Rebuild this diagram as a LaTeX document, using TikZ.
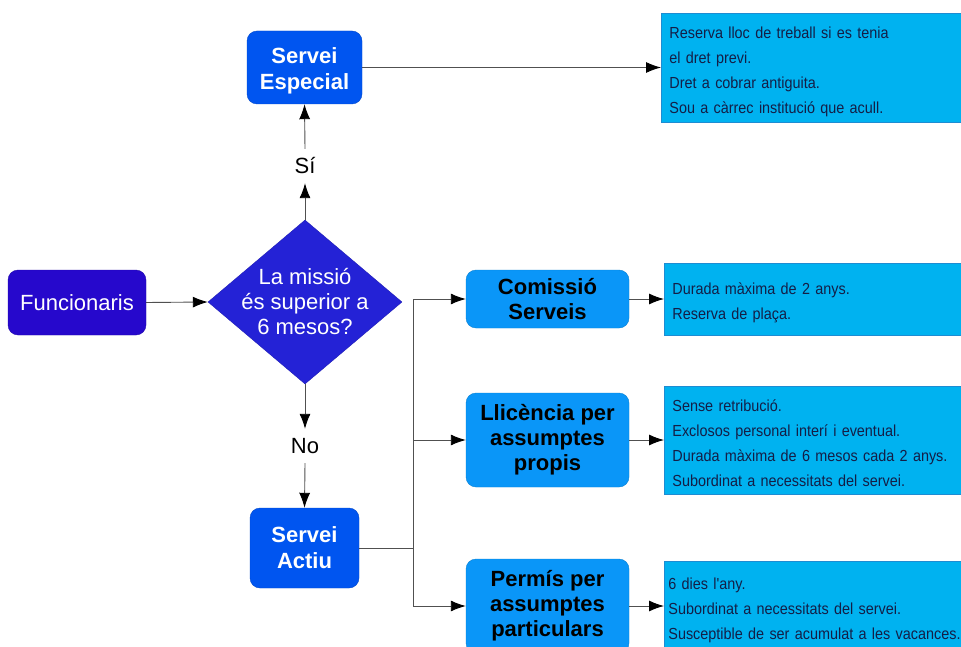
\documentclass[tikz,border=0pt]{standalone}
\usepackage{fontspec}
\setmainfont{Liberation Sans}
\newfontfamily\infofont[FakeStretch=0.9]{Liberation Sans}
\usetikzlibrary{shapes.geometric,arrows.meta}
\definecolor{funcblue}{RGB}{38,8,204}
\definecolor{diablue}{RGB}{36,34,214}
\definecolor{servblue}{RGB}{0,85,240}
\definecolor{optblue}{RGB}{10,150,248}
\definecolor{infoblue}{RGB}{0,178,240}
\definecolor{infoborder}{RGB}{30,140,210}
\definecolor{infotext}{RGB}{20,30,70}
\definecolor{linegray}{RGB}{80,80,80}
\newcommand{\toppad}[1]{\rule{0pt}{#1}}
\tikzset{
  boxbase/.style={rounded corners=10pt, inner sep=0pt, align=center, font=\fontsize{22}{26}\selectfont},
  funcbox/.style={boxbase, fill=funcblue, draw=funcblue!85!black, text=white},
  servbox/.style={boxbase, fill=servblue, draw=servblue!85!black, text=white, font=\fontsize{22}{26}\selectfont\bfseries},
  optbox/.style={boxbase, fill=optblue, draw=optblue!85!black, text=black, font=\fontsize{22}{25}\selectfont\bfseries},
  infobox/.style={rectangle, fill=infoblue, draw=infoborder, line width=0.8pt, anchor=west, align=left,
    text width=314pt, inner xsep=8pt, inner ysep=0pt, text=infotext,
    font=\infofont\fontsize{16}{25}\selectfont},
  lbl/.style={inner sep=0pt, minimum height=34pt, font=\fontsize{22}{26}\selectfont},
  conn/.style={draw=linegray, line width=0.9pt},
  arr/.style={conn, -{Latex[length=15pt,width=11pt,color=black]}}
}
\begin{document}
\begin{tikzpicture}[x=1pt,y=-1pt]
\useasboundingbox (0,0) rectangle (961,647);
\clip (0,0) rectangle (961,647);
\fill[white] (0,0) rectangle (961,647);
% main nodes
\node[funcbox, minimum width=138pt, minimum height=65pt] (func) at (77,302.5) {Funcionaris};
\node[diamond, fill=diablue, draw=diablue!85!black, inner sep=0pt, minimum width=194pt, minimum height=164pt] (dia) at (305,302) {};
\node[text=white, align=center, font=\fontsize{22}{25}\selectfont] (diatext) at (dia.center) {La missió\\és superior a\\6 mesos?};
\node[servbox, minimum width=115pt, minimum height=73pt] (sesp) at (304.5,67.5) {\toppad{22pt}Servei\\Especial};
\node[servbox, minimum width=109pt, minimum height=80pt] (sact) at (304.5,548) {Servei\\Actiu};
\node[lbl] (si) at (305,166) {Sí};
\node[lbl] (no) at (305,446) {No};
\node[optbox, minimum width=163pt, minimum height=58pt] (com) at (547.5,299) {Comissió\\Serveis};
\node[optbox, minimum width=163pt, minimum height=94pt] (llic) at (547.5,440) {Llicència per\\assumptes\\propis};
\node[optbox, minimum width=163pt, minimum height=94pt] (perm) at (547.5,606) {Permís per\\assumptes\\particulars};
% info boxes
\node[infobox, minimum height=109pt] (info1) at (661,67.5) {\toppad{21pt}Reserva lloc de treball si es tenia\\el dret previ.\\Dret a cobrar antiguita.\\Sou a càrrec institució que acull.};
\node[infobox, minimum height=72pt] (info2) at (664,299) {\toppad{20pt}Durada màxima de 2 anys.\\Reserva de plaça.};
\node[infobox, minimum height=108pt] (info3) at (664,440) {\toppad{19pt}Sense retribució.\\Exclosos personal interí i eventual.\\Durada màxima de 6 mesos cada 2 anys.\\Subordinat a necessitats del servei.};
\node[infobox, minimum height=90pt, inner xsep=4pt, text width=322pt] (info4) at (664,606) {\toppad{20pt}6 dies l'any.\\Subordinat a necessitats del servei.\\Susceptible de ser acumulat a les vacances.};
% connectors
\draw[arr] (func.east) -- (dia.west);
\draw[arr] (dia.north) -- (si.south);
\draw[arr] (si.north) -- (sesp.south);
\draw[arr] (dia.south) -- (no.north);
\draw[arr] (no.south) -- (sact.north);
\draw[arr] (sesp.east) -- (info1.west);
\coordinate (jn) at (413,548);
\draw[conn] (sact.east) -- (jn);
\draw[arr] (jn) |- (com.west);
\draw[arr] (jn) |- (llic.west);
\draw[arr] (jn) |- (perm.west);
\draw[arr] (com.east) -- (info2.west);
\draw[arr] (llic.east) -- (info3.west);
\draw[arr] (perm.east) -- (info4.west);
\end{tikzpicture}
\end{document}
